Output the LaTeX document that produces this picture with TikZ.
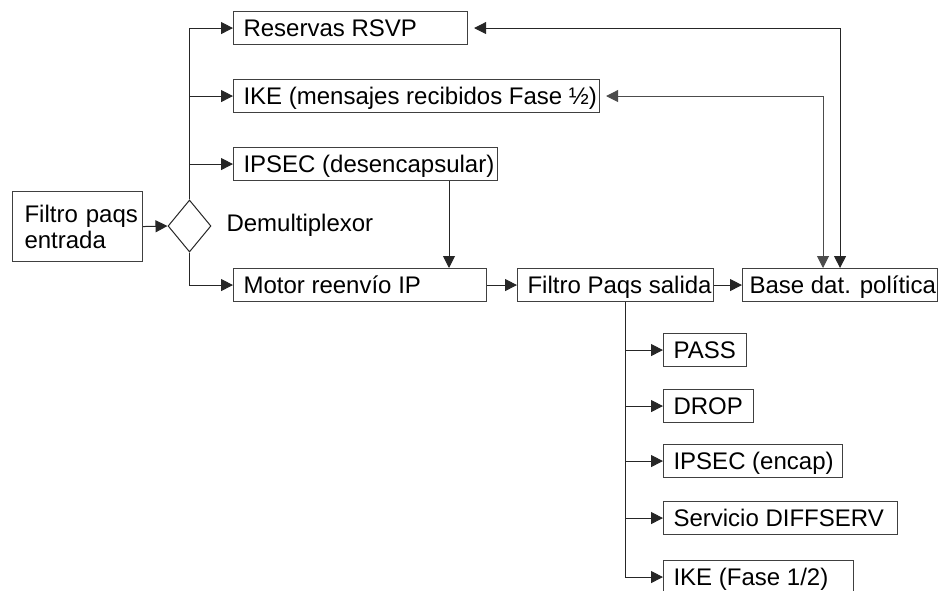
\documentclass[tikz,border=0pt]{standalone}
\usepackage{fontspec}
\setmainfont{Liberation Sans}
\usetikzlibrary{arrows.meta,shapes.geometric}
\newcommand{\lbox}[2]{\makebox[#1][l]{#2}}
\begin{document}
\begin{tikzpicture}[x=1pt,y=-1pt,
  font=\fontsize{24}{26}\selectfont,
  line width=1pt,
  box/.style={draw=black!75, line width=1.1pt, inner xsep=10pt, inner ysep=0pt,
    minimum height=33pt, text height=17.2pt, text depth=0pt, anchor=north west},
  link/.style={draw=black!85, -{Triangle[length=12pt,width=12pt]}},
  dlink/.style={draw=black!85, {Triangle[length=12pt,width=12pt]}-{Triangle[length=12pt,width=12pt]}, shorten <=6pt}]
\useasboundingbox (0,0) rectangle (938,591);

% input filter and demultiplexer
\node[draw=black!75, line width=1.1pt, anchor=north west, inner xsep=6pt, inner ysep=0pt,
      text width=118pt, align=left, minimum height=70pt] (fin) at (12,191)
  {\hspace*{6pt}\lbox{0pt}{Filtro paqs}\\\hspace*{6pt}\lbox{0pt}{entrada}};
\node[diamond, draw=black!85, line width=1pt, minimum width=43pt, minimum height=52pt, inner sep=0pt] (demux) at (189.5,226) {};
\node[anchor=west, inner sep=0pt] (demuxlbl) at (226,225) {Demultiplexor};

% receiving branches
\node[box] (rsvp) at (233,11) {\lbox{214pt}{Reservas RSVP}};
\node[box] (ike) at (233,79) {\lbox{346pt}{IKE (mensajes recibidos Fase ½)}};
\node[box] (ipsecd) at (233,147) {\lbox{244pt}{IPSEC (desencapsular)}};
\node[box] (motor) at (233,268) {\lbox{233pt}{Motor reenvío IP}};
\node[box] (fout) at (517,268) {\lbox{176pt}{Filtro Paqs salida}};
\node[box, inner xsep=7pt] (base) at (742,268) {\lbox{181pt}{Base dat. política}};

% output actions
\node[box] (pass) at (663,333) {\lbox{63pt}{PASS}};
\node[box] (drop) at (663,389) {\lbox{70pt}{DROP}};
\node[box] (ipsece) at (663,444) {\lbox{159pt}{IPSEC (encap)}};
\node[box] (diff) at (663,501) {\lbox{214pt}{Servicio DIFFSERV}};
\node[box] (ikef) at (663,560) {\lbox{170pt}{IKE (Fase 1/2)}};

% helper points for off-centre connectors
\coordinate (dn) at (449,0);
\coordinate (ot) at (625,0);
\coordinate (b2) at (823,0);

% connectors
\draw[link] (fin.east) -- (demux.west);
\draw[link] (demux.north) |- (rsvp.west);
\draw[link] (demux.north) |- (ike.west);
\draw[link] (demux.north) |- (ipsecd.west);
\draw[link] (demux.south) |- (motor.west);
\draw[link] (ipsecd.south -| dn) -- (motor.north -| dn);
\draw[link] (motor.east) -- (fout.west);
\draw[link] (fout.east) -- (base.west);

\draw[dlink] (rsvp.east) -| (base.north);
\draw[dlink, draw=black!70] (ike.east) -| (base.north -| b2);

\draw[link] (fout.south -| ot) |- (pass.west);
\draw[link] (fout.south -| ot) |- (drop.west);
\draw[link] (fout.south -| ot) |- (ipsece.west);
\draw[link] (fout.south -| ot) |- (diff.west);
\draw[link] (fout.south -| ot) |- (ikef.west);
\end{tikzpicture}
\end{document}
